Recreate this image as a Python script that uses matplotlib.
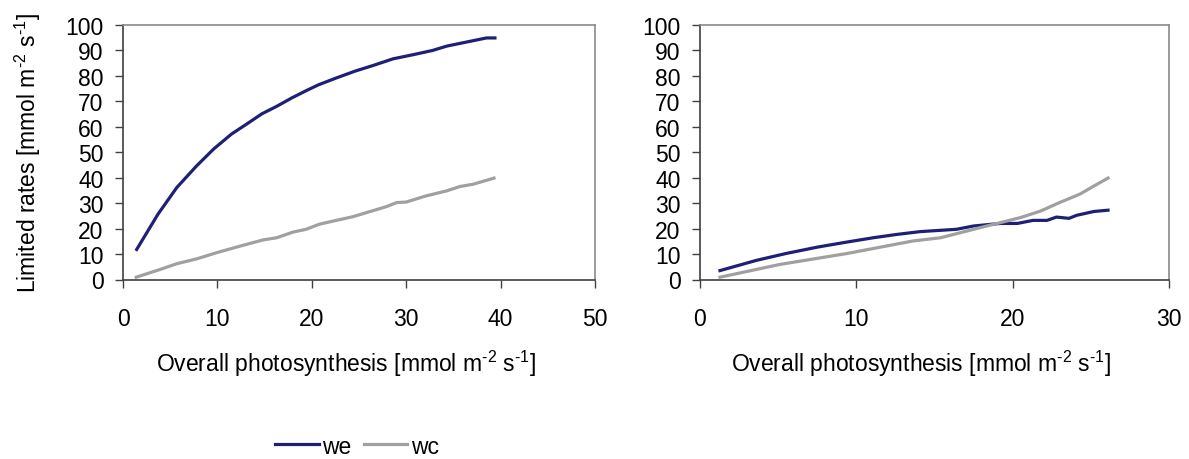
import matplotlib
matplotlib.use("Agg")
import matplotlib.pyplot as plt

plt.rcParams['font.family'] = ['Liberation Sans', 'DejaVu Sans']
plt.rcParams['mathtext.fontset'] = 'custom'
plt.rcParams['mathtext.rm'] = 'Liberation Sans'
plt.rcParams['mathtext.default'] = 'regular'

# Left panel: overall photosynthesis vs limited rates
left_x_we = [1.45, 3.7, 5.7, 7.8, 9.6, 11.5, 13.1, 14.7, 16.3, 17.9, 19.4, 20.7,
             22.6, 24.6, 26.5, 28.6, 30.7, 32.8, 34.3, 36.4, 38.5, 39.4]
left_we = [11.8, 25.6, 36.1, 44.6, 51.2, 57.1, 61.0, 65.0, 68.0, 71.3, 74.1, 76.4,
           79.1, 81.8, 84.0, 86.6, 88.2, 89.9, 91.6, 93.2, 94.8, 94.8]
left_x_wc = [1.4, 3.9, 5.7, 7.8, 9.9, 12.4, 14.8, 16.3, 18.0, 19.4, 20.8, 24.4,
             27.9, 29.0, 30.0, 32.1, 34.3, 35.7, 37.1, 39.3]
left_wc = [0.9, 3.9, 6.2, 8.1, 10.5, 13.1, 15.5, 16.4, 18.6, 19.7, 21.7, 24.7,
           28.6, 30.2, 30.4, 32.8, 34.8, 36.5, 37.4, 39.8]

# Right panel
right_x_we = [1.28, 3.6, 5.5, 7.5, 9.4, 11.1, 12.6, 14.1, 16.4, 17.5, 19.2, 20.3,
              21.3, 22.2, 22.8, 23.6, 24.1, 25.2, 26.1]
right_we = [3.5, 7.5, 10.2, 12.7, 14.7, 16.4, 17.7, 18.8, 19.7, 21.0, 22.0, 22.0,
            23.2, 23.2, 24.5, 24.0, 25.2, 26.7, 27.2]
right_x_wc = [1.28, 5.1, 9.4, 13.6, 15.4, 17.5, 19.2, 20.5, 21.8, 23.0, 24.3, 25.2, 26.1]
right_wc = [0.9, 5.9, 10.2, 15.1, 16.4, 19.7, 22.3, 24.3, 26.9, 30.2, 33.5, 36.7, 39.8]

left_xticks = [0, 10, 20, 30, 40, 50]
right_xticks = [0, 10, 20, 30]
yticks = list(range(0, 101, 10))

WE_COLOR = '#1f1f78'
WC_COLOR = '#a0a0a0'
FS = 16.5

fig = plt.figure(figsize=(11.89, 4.60), dpi=100)
W, H = 1189, 460
ax1 = fig.add_axes([123 / W, 1 - 280.5 / H, (595 - 123) / W, (280.5 - 25.7) / H])
ax2 = fig.add_axes([700 / W, 1 - 280.5 / H, (1169 - 700) / W, (280.5 - 25.7) / H])

xlabel = r'Overall photosynthesis [mmol m$^{\text{-}2}$ s$^{\text{-}1}$]'

for ax, xw, yw, xc, yc, xt in [
    (ax1, left_x_we, left_we, left_x_wc, left_wc, left_xticks),
    (ax2, right_x_we, right_we, right_x_wc, right_wc, right_xticks),
]:
    l1, = ax.plot(xw, yw, color=WE_COLOR, lw=2.3, label='we')
    l2, = ax.plot(xc, yc, color=WC_COLOR, lw=2.3, label='wc')
    ax.set_xlim(xt[0], xt[-1])
    ax.set_ylim(0, 100)
    ax.set_xticks(xt)
    ax.set_yticks(yticks)
    ax.tick_params(labelsize=FS, length=6, width=1, color='#404040', direction='out')
    ax.tick_params(axis='x', pad=13.5)
    ax.tick_params(axis='y', pad=8)
    for s in ['left', 'bottom']:
        ax.spines[s].set_color('#404040')
        ax.spines[s].set_linewidth(1.2)
    for s in ['top', 'right']:
        ax.spines[s].set_color('#8a8a8a')
        ax.spines[s].set_linewidth(1.2)
    ax.set_xlabel(xlabel, fontsize=FS, labelpad=13)
    ax.xaxis.label.set_x(0.472)

ax1.set_ylabel(r'Limited rates [mmol m$^{\text{-}2}$ s$^{\text{-}1}$]', fontsize=FS, labelpad=16)

fig.legend(handles=[l1, l2], labels=['we', 'wc'], loc='center',
           bbox_to_anchor=(357 / W, 1 - 447 / H), ncol=2, frameon=False,
           fontsize=FS, handlelength=1.9, handletextpad=0.15, columnspacing=0.55)

fig.savefig('out.png', dpi=100)
